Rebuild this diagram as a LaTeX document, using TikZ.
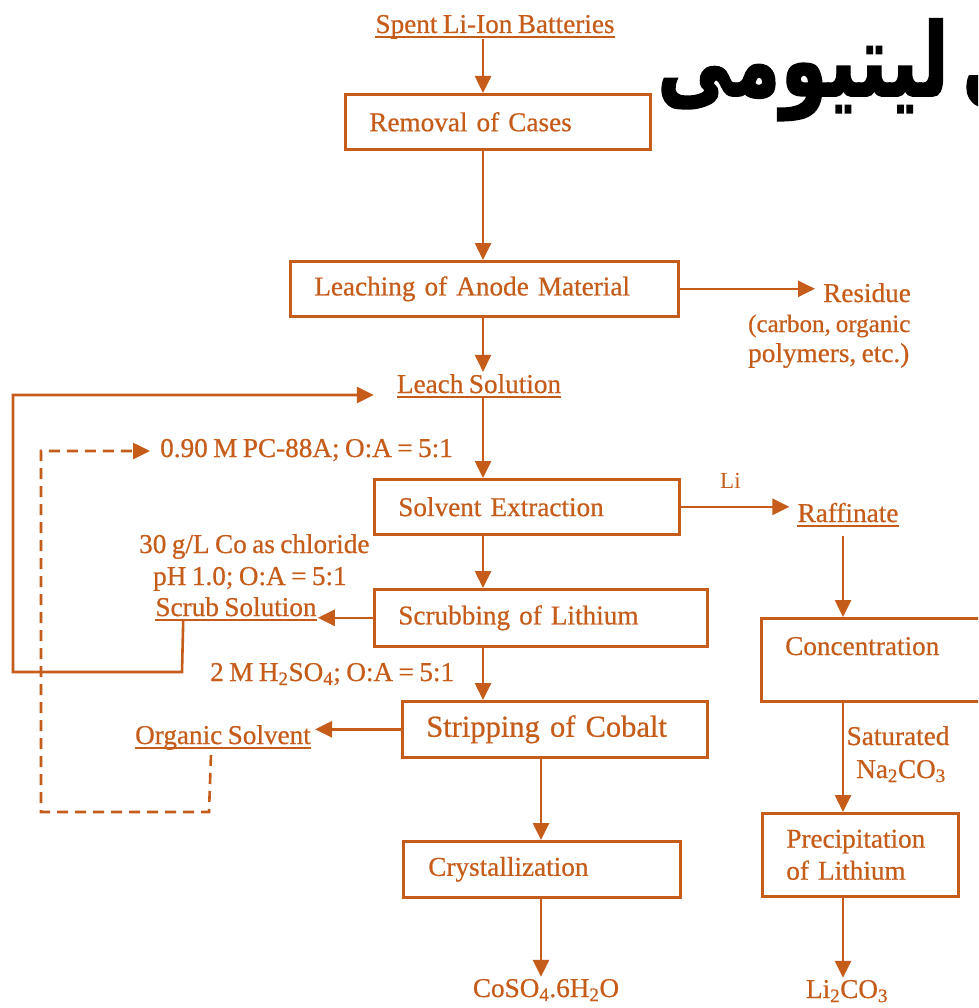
\documentclass[tikz,border=0pt]{standalone}
\usepackage{fontspec}
\setmainfont{Liberation Serif}[FakeBold=0.6, WordSpace=0.8]
\newfontfamily\plainserif{Liberation Serif}
\newfontfamily\arabicfont[Script=Arabic, BoldFeatures={FakeBold=1.5}]{DejaVu Sans}
\TeXXeTstate=1
\usetikzlibrary{arrows.meta,calc}
\definecolor{rust}{RGB}{198,92,26}
\begin{document}
\begin{tikzpicture}[x=1pt,y=-1pt,
  every node/.style={text=rust, inner sep=0pt, font=\fontsize{27.2}{32}\selectfont},
  fa/.style={anchor=base west, text=black, xscale=0.78, yscale=1.05, font=\arabicfont\bfseries\fontsize{97}{100}\selectfont},
  box/.style={draw=rust, line width=2.6pt, anchor=north west, inner xsep=24pt, align=left},
  lbl/.style={anchor=base west},
  clbl/.style={anchor=base},
  arr/.style={draw=rust, line width=2.6pt, -{Triangle[length=17pt,width=16pt]}},
  ul/.style={draw=rust, line width=1.8pt},
  dsh/.style={draw=rust, line width=2.6pt, dash pattern=on 11pt off 7pt},
]
\clip (0,0) rectangle (978,1008);
\fill[white] (0,0) rectangle (978,1008);

% Persian title (partially cut at right edge)
\node[fa] (fa1) at (657,96) {\beginR لیتیومی\endR};
\node[fa] (fa2) at (962,96) {\beginR های\endR};

% column coordinates
\coordinate (cA) at (483,0);
\coordinate (cC) at (541,0);
\coordinate (cR) at (843,0);

% underlined labels
\node[clbl] (spent) at (495,33) {Spent Li-Ion Batteries};
\node[clbl] (lsol) at (479,393) {Leach Solution};
\node[clbl] (raff) at (848,522) {Raffinate};
\node[clbl] (ssol) at (236,616) {Scrub Solution};
\node[clbl] (osol) at (223,744) {Organic Solvent};
\foreach \n in {spent,lsol,raff,ssol,osol}{
  \draw[ul] ($(\n.base west)+(0,4)$) -- ($(\n.base east)+(0,4)$);
}

% process boxes
\node[box, minimum width=305pt, minimum height=55pt, text width=257pt] (rem) at (344,93) {Removal of Cases};
\node[box, minimum width=388pt, minimum height=55pt, text width=340pt] (leach) at (289,260) {Leaching of Anode Material};
\node[box, minimum width=305pt, minimum height=55pt, text width=257pt] (solv) at (373,478) {Solvent Extraction};
\node[box, minimum width=333pt, minimum height=57pt, text width=285pt] (scrub) at (373,588) {Scrubbing of Lithium};
\node[box, minimum width=305pt, minimum height=56pt, text width=257pt, font=\fontsize{30.5}{34}\selectfont] (strip) at (401,700) {Stripping of Cobalt};
\node[box, minimum width=277pt, minimum height=56pt, text width=227pt, inner xsep=25pt] (cryst) at (402,840) {Crystallization};
\node[box, minimum width=240pt, minimum height=83pt, text width=192pt] (conc) at (760,617) {};
\node[lbl] (conct) at (785,655) {Concentration};
\node[box, minimum width=196pt, minimum height=83pt, text width=148pt] (prec) at (761,812) {Precipitation\\of Lithium};

% other labels
\node[lbl] (res) at (823,302) {Residue};
\node[lbl, font=\fontsize{25}{30}\selectfont] (res2) at (748,332) {(carbon,\ organic};
\node[lbl] (res3) at (748,362) {polymers, etc.)};
\node[lbl, font=\plainserif\fontsize{23}{26}\selectfont] (li) at (720,488) {Li};
\node[lbl] (pc) at (160,457) {0.90 M PC-88A; O:A = 5:1};
\node[lbl] (co) at (139,553) {30 g/L Co as chloride};
\node[lbl] (ph) at (153,585) {pH 1.0; O:A = 5:1};
\node[lbl] (hs) at (210,681) {2 M H\textsubscript{2}SO\textsubscript{4}; O:A = 5:1};
\node[clbl] (sat) at (898,745) {Saturated};
\node[clbl] (na) at (901,778) {Na\textsubscript{2}CO\textsubscript{3}};
\node[clbl] (lico) at (847,998) {Li\textsubscript{2}CO\textsubscript{3}};
\node[clbl] (coso) at (546,997) {CoSO\textsubscript{4}.6H\textsubscript{2}O};

% main column arrows
\draw[arr] (cA |- spent.south) -- (cA |- rem.north);
\draw[arr] (cA |- rem.south) -- (cA |- leach.north);
\draw[arr] (cA |- leach.south) -- ($(cA |- lsol.north)+(0,-2)$);
\draw[arr] ($(cA |- lsol.south)+(0,4)$) -- (cA |- solv.north);
\draw[arr] (cA |- solv.south) -- (cA |- scrub.north);
\draw[arr] (cA |- scrub.south) -- (cA |- strip.north);
\draw[arr] (cC |- strip.south) -- (cC |- cryst.north);
\draw[arr] (cC |- cryst.south) -- ($(cC |- coso.north)+(0,-2)$);

% side arrows
\draw[arr] (leach.east) -- ($(leach.east -| res.west)+(-8,0)$);
\draw[arr] (solv.east) -- ($(solv.east -| raff.west)+(-8,0)$);
\draw[arr] (scrub.west) -- ($(scrub.west -| ssol.east)+(1,0)$);
\draw[arr] (strip.west) -- ($(strip.west -| osol.east)+(4,0)$);

% right column
\draw[arr] ($(cR |- raff.south)+(0,14)$) -- (cR |- conc.north);
\draw[arr] (cR |- conc.south) -- (cR |- prec.north);
\draw[arr] (cR |- prec.south) -- ($(cR |- lico.north)+(0,-2)$);

% recycle loops
\coordinate (sA) at ($(ssol.base west)+(28,3)$);
\draw[arr] (sA) -- (182,672) -- (13,672) -- (13,395) -- ($(lsol.base west)+(-23,2)$);
\coordinate (oA) at ($(osol.base west)+(76,11)$);
\draw[dsh, -{Triangle[length=17pt,width=16pt]}] (oA) -- (209,812) -- (41,812) -- (41,451) -- ($(pc.base west)+(-10,-6)$);
\end{tikzpicture}
\end{document}
